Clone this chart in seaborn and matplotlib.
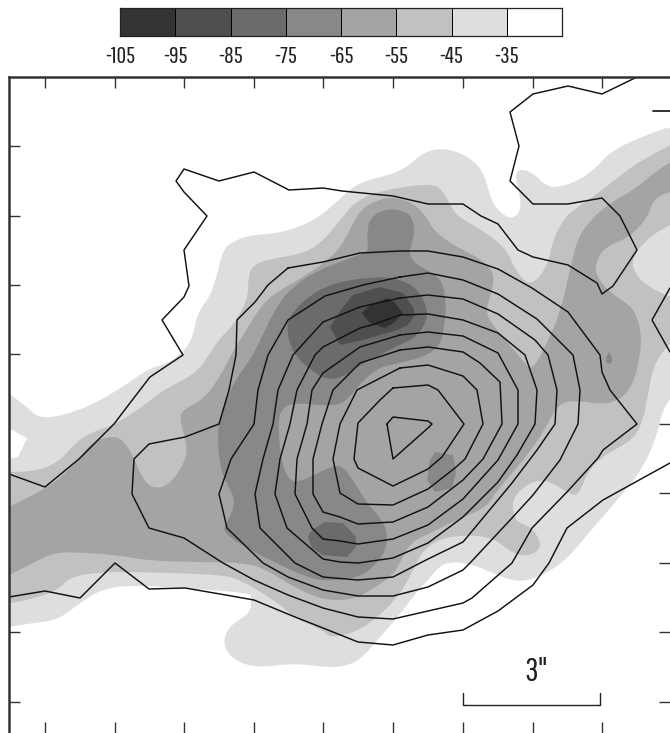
import numpy as np
import matplotlib
matplotlib.use("Agg")
import matplotlib.pyplot as plt
from matplotlib.colors import ListedColormap
from matplotlib.patches import PathPatch
from matplotlib.path import Path
import seaborn as sns

# colour bar
levels = [-105, -95, -85, -75, -65, -55, -45, -35]
greys = ["#333333", "#4f4f4f", "#6b6b6b", "#888888", "#a4a4a4", "#c1c1c1", "#dedede", "#ffffff"]

# tick positions along the map frame
x_ticks = [45, 115, 184, 254, 323, 393, 463, 533, 602]
y_ticks = [146, 216, 285, 354, 424, 493, 563, 632, 702]

# filled levels, edge points run past the frame
band_45 = [(-10,380),(25,405),(42,421),(90,407),(130,382),(150,368),(170,363),(192,343),(197,313),(210,297),(217,275),
           (223,250),(232,242),(250,235),(282,233),(316,220),(342,197),(359,182),(402,172),(423,152),(444,148),(466,155),
           (483,170),(491,200),(499,212),(513,220),(523,207),(513,170),(530,170),(547,187),(560,187),(580,180),(597,167),
           (610,152),(640,137),(690,120),(690,385),(665,400),(655,443),(637,477),(617,500),(583,540),(563,563),(537,578),
           (517,582),(497,575),(470,563),(443,562),(430,578),(418,590),(398,617),(380,637),(363,657),(350,665),(330,668),
           (293,663),(257,668),(233,660),(222,643),(230,625),(251,613),(251,597),(250,593),(183,588),(127,585),(100,590),
           (80,603),(58,620),(33,623),(-10,630)]
hole_45 = [(-10,426),(10,429),(27,438),(22,449),(18,457),(9,459),(-10,461)]
band_55 = [(-10,472),(33,472),(58,463),(75,443),(90,433),(113,425),(133,413),(147,403),(163,390),(197,373),(210,353),
           (220,338),(232,327),(248,300),(248,277),(253,265),(270,259),(307,253),(327,237),(340,220),(357,200),(383,190),
           (433,183),(443,191),(453,210),(460,218),(487,233),(507,250),(515,270),(530,287),(547,268),(553,240),(563,220),
           (573,210),(600,192),(623,173),(647,157),(690,135),(690,215),(650,235),(630,260),(637,277),(653,290),(690,305),
           (690,325),(655,357),(647,400),(643,420),(635,437),(620,447),(600,458),(587,473),(578,497),(567,492),(547,480),
           (530,482),(513,497),(513,513),(517,522),(533,528),(543,547),(528,557),(510,552),(497,540),(477,535),(443,537),
           (423,550),(413,570),(403,590),(383,613),(357,632),(330,638),(323,630),(293,617),(287,610),(263,593),(240,580),
           (223,575),(173,573),(133,572),(100,572),(70,577),(58,590),(33,599),(-10,607)]
band_65 = [(-10,515),(45,490),(75,465),(90,443),(107,437),(120,437),(132,453),(142,478),(153,489),(170,485),(188,457),
           (185,438),(180,420),(182,410),(203,400),(220,377),(232,353),(245,332),(263,303),(280,290),(307,275),(337,253),
           (350,230),(360,210),(377,200),(393,197),(413,203),(427,217),(433,230),(450,243),(467,252),(487,263),(495,278),
           (490,297),(485,315),(503,337),(520,357),(532,372),(547,343),(560,313),(570,270),(577,240),(590,220),(610,203),
           (637,188),(653,173),(690,150),(690,188),(655,195),(648,217),(630,237),(603,248),(595,265),(597,277),(610,293),
           (630,305),(638,318),(642,340),(637,373),(627,395),(607,405),(573,400),(558,405),(550,420),(530,453),(497,490),
           (487,507),(463,517),(430,533),(410,543),(400,563),(393,575),(367,593),(350,600),(323,600),(293,587),(267,570),
           (247,563),(200,562),(150,561),(117,555),(73,552),(53,553),(33,563),(-10,585)]
band_75 = [(368,250),(367,233),(370,217),(388,208),(407,212),(413,220),(415,233),(410,248),(410,257),(417,265),(433,273),
           (443,283),(446,303),(445,323),(440,347),(423,357),(400,363),(380,367),(363,380),(350,397),(337,407),(290,402),
           (280,412),(278,427),(282,467),(293,485),(320,472),(340,463),(353,480),(367,503),(380,517),(388,533),(385,553),
           (373,567),(360,577),(323,582),(297,573),(277,563),(253,552),(222,532),(227,523),(237,500),(222,477),(217,440),
           (220,417),(233,383),(250,360),(257,347),(277,305),(293,287),(313,273),(337,263),(367,252)]
spot_75 = [(430,460),(435,452),(453,455),(456,473),(452,488),(435,492),(427,480)]
drop_75 = [(609,352),(612,358),(612,362),(609,364),(606,362),(606,358)]
band_85 = [(288,318),(307,297),(333,283),(370,277),(397,278),(417,288),(427,307),(427,320),(417,337),(395,347),(380,355),
           (363,363),(343,377),(327,380),(310,370),(293,353),(287,333)]
spot_85 = [(308,537),(312,530),(325,522),(343,523),(356,537),(356,547),(347,557),(323,555),(312,548)]
band_95 = [(330,327),(343,307),(353,295),(380,287),(403,293),(413,307),(415,315),(408,325),(397,330),(363,340),(340,345)]
band_105 = [(362,313),(370,305),(387,298),(395,303),(403,313),(395,322),(385,328),(370,323)]

# contour lines, open ones first
line_a = [(9,474),(45,487),(79,459),(114,424),(130,403),(150,377),(183,355),(162,320),(184,297),(189,286),(184,250),
          (207,216),(184,192),(176,181),(184,169),(219,181),(254,172),(289,190),(323,188),(342,191),(393,196),(428,204),
          (463,204),(481,216),(498,224),(518,250),(533,257),(568,265),(597,283),(602,294),(613,286),(637,250),(620,216),
          (602,198),(568,204),(533,204),(510,181),(519,146),(510,112),(533,94),(568,86),(602,94),(637,77)]
line_b = [(9,597),(45,591),(80,598),(115,563),(149,589),(185,588),(220,594),(254,600),(295,617),(323,628),(358,642),
          (393,645),(428,635),(463,630),(498,611),(533,585),(549,563),(567,528),(603,500),(670,463)]
line_edge = [(670,288),(652,320),(670,352)]
ring_c = [(288,268),(268,285),(255,302),(237,320),(236,355),(229,390),(219,424),(185,437),(149,444),(134,459),(132,494),
          (149,528),(184,538),(223,563),(254,580),(288,595),(323,608),(358,617),(393,619),(428,611),(463,603),(472,598),
          (512,563),(532,528),(567,492),(598,458),(603,450),(637,424),(610,390),(602,372),(600,355),(568,312),(532,288),
          (498,269),(463,257),(428,251),(400,251),(360,253),(323,262)]
ring_d = [(400,277),(363,285),(325,296),(288,320),(268,355),(258,390),(254,424),(231,459),(219,494),(227,528),(263,563),
          (288,577),(323,590),(358,596),(393,596),(428,587),(463,570),(470,563),(512,518),(533,495),(560,460),(578,424),
          (580,390),(573,355),(537,319),(498,294),(463,280),(428,273)]
ring_e = [(400,298),(360,307),(323,322),(293,355),(278,390),(273,424),(263,459),(255,494),(260,528),(295,563),(323,577),
          (358,580),(393,577),(428,559),(463,542),(512,483),(537,450),(555,424),(557,390),(548,355),(535,340),(498,314),
          (463,299),(428,295)]
ring_f = [(400,315),(372,325),(360,328),(323,347),(315,355),(297,390),(290,424),(280,459),(275,494),(287,528),(323,559),
          (340,562),(358,563),(393,558),(428,543),(463,517),(498,482),(517,455),(535,424),(537,390),(525,355),(498,333),
          (463,320),(428,314)]
ring_g = [(400,335),(360,347),(323,373),(312,390),(307,424),(297,459),(295,494),(312,528),(323,539),(340,541),(358,544),
          (393,539),(428,525),(463,499),(498,460),(518,424),(518,390),(498,353),(463,336),(428,332)]
ring_h = [(400,350),(360,363),(333,390),(322,424),(313,459),(313,494),(323,512),(340,517),(358,524),(393,522),(428,507),
          (463,480),(483,459),(502,424),(500,382),(480,363),(463,352),(428,347)]
ring_i = [(400,368),(357,390),(340,424),(333,459),(340,493),(358,504),(393,505),(428,489),(455,468),(465,459),(483,424),
          (477,390),(463,376),(428,365)]
ring_j = [(393,388),(428,385),(438,390),(464,424),(442,457),(428,469),(393,486),(358,468),(354,459),(358,423),(380,400)]
ring_k = [(387,424),(393,417),(428,421),(432,424),(428,428),(393,459)]

W, H = 670, 733

sns.set_style("white")
plt.rcParams["font.family"] = ["Pathway Gothic One", "Archivo Narrow", "Liberation Sans", "DejaVu Sans"]

fig = plt.figure(figsize=(W / 100, H / 100), dpi=100)

# colour bar as a one row heatmap
cax = fig.add_axes([120 / W, 1 - 36 / H, 442 / W, 28 / H])
sns.heatmap(np.array([levels]), ax=cax, cmap=ListedColormap(greys), cbar=False,
            linewidths=0.7, linecolor="black", square=False, xticklabels=False, yticklabels=False)
for s in cax.spines.values():
    s.set_visible(True)
    s.set_color("#222222")
    s.set_linewidth(0.9)
cax.set_xticks(np.arange(len(levels)))
cax.set_xticklabels(levels, fontsize=17)
cax.tick_params(axis="x", length=0, pad=7, labelcolor="#222222")
cax.set_yticks([])

# main map, axes run in the picture's own units
ax = fig.add_axes([9 / W, 0, 661 / W, 656 / H])
ax.set_xlim(9, 670)
ax.set_ylim(733, 77)


def fill(poly, color, smooth=True):
    pts = np.array(poly, dtype=float)
    if not smooth:
        ax.fill(pts[:, 0], pts[:, 1], color=color, lw=0)
        return
    # rounded outline, each vertex acts as a curve control point
    mids = (pts + np.roll(pts, -1, axis=0)) / 2
    verts = [mids[-1]]
    codes = [Path.MOVETO]
    for p, m in zip(pts, mids):
        verts += [p, m]
        codes += [Path.CURVE3, Path.CURVE3]
    ax.add_patch(PathPatch(Path(verts, codes), facecolor=color, edgecolor="none", lw=0))


def draw(poly, closed=False):
    pts = np.array(poly + poly[:1] if closed else poly)
    sns.lineplot(x=pts[:, 0], y=pts[:, 1], ax=ax, sort=False, estimator=None, color="#111111",
                 linewidth=1.05, legend=False)


fill(band_45, greys[6])
fill(hole_45, "white", smooth=False)
fill(band_55, greys[5])
fill(band_65, greys[4])
fill(band_75, greys[3])
fill(spot_75, greys[3], smooth=False)
fill(drop_75, greys[3], smooth=False)
fill(band_85, greys[2])
fill(spot_85, greys[2], smooth=False)
fill(band_95, greys[1], smooth=False)
fill(band_105, greys[0], smooth=False)

for line in [line_a, line_b, line_edge]:
    draw(line)
for ring in [ring_c, ring_d, ring_e, ring_f, ring_g, ring_h, ring_i, ring_j, ring_k]:
    draw(ring, closed=True)

ax.set_xlim(9, 670)
ax.set_ylim(733, 77)
ax.set_xticks(x_ticks)
ax.set_yticks(y_ticks)
sns.despine(ax=ax, right=True, bottom=True, top=False, left=False)
ax.tick_params(direction="in", length=8, width=1, color="#333333", top=True, right=True,
               bottom=True, left=True, labelbottom=False, labelleft=False, labeltop=False, labelright=False)
ax.set_xlabel("")
ax.set_ylabel("")
for side in ["top", "left"]:
    ax.spines[side].set_color("#333333")
    ax.spines[side].set_linewidth(1.8)

# long stub on the right edge
ax.plot([653, 670], [111, 111], color="#222222", lw=1.3)

# 3 arcsec scale bar
ax.plot([463, 463, 600, 600], [693, 705, 705, 693], color="#222222", lw=1.0)
ax.text(536, 672, '3"', ha="center", va="center", fontsize=24, color="#222222")

fig.savefig("out.png", dpi=100, facecolor="white")
